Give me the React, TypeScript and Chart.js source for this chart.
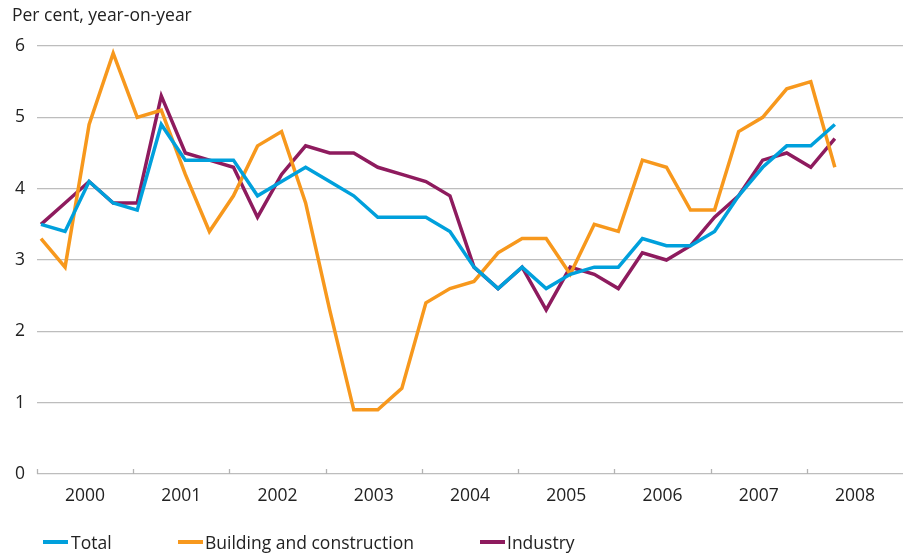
import React, { useEffect, useRef } from "react";
import { Chart, registerables } from "chart.js";

Chart.register(...registerables);

const quarters = [
  "2000Q1","2000Q2","2000Q3","2000Q4",
  "2001Q1","2001Q2","2001Q3","2001Q4",
  "2002Q1","2002Q2","2002Q3","2002Q4",
  "2003Q1","2003Q2","2003Q3","2003Q4",
  "2004Q1","2004Q2","2004Q3","2004Q4",
  "2005Q1","2005Q2","2005Q3","2005Q4",
  "2006Q1","2006Q2","2006Q3","2006Q4",
  "2007Q1","2007Q2","2007Q3","2007Q4",
  "2008Q1","2008Q2",
];

const total = [
  3.5, 3.4, 4.1, 3.8, 3.7, 4.9, 4.4, 4.4, 4.4, 3.9, 4.1, 4.3,
  4.1, 3.9, 3.6, 3.6, 3.6, 3.4, 2.9, 2.6, 2.9, 2.6, 2.8, 2.9,
  2.9, 3.3, 3.2, 3.2, 3.4, 3.9, 4.3, 4.6, 4.6, 4.9,
];

const building = [
  3.3, 2.9, 4.9, 5.9, 5.0, 5.1, 4.2, 3.4, 3.9, 4.6, 4.8, 3.8,
  2.3, 0.9, 0.9, 1.2, 2.4, 2.6, 2.7, 3.1, 3.3, 3.3, 2.8, 3.5,
  3.4, 4.4, 4.3, 3.7, 3.7, 4.8, 5.0, 5.4, 5.5, 4.3,
];

const industry = [
  3.5, 3.8, 4.1, 3.8, 3.8, 5.3, 4.5, 4.4, 4.3, 3.6, 4.2, 4.6,
  4.5, 4.5, 4.3, 4.2, 4.1, 3.9, 2.9, 2.6, 2.9, 2.3, 2.9, 2.8,
  2.6, 3.1, 3.0, 3.2, 3.6, 3.9, 4.4, 4.5, 4.3, 4.7,
];

const yearLabels = ["2000","2001","2002","2003","2004","2005","2006","2007","2008"];
const yTicks = [0, 1, 2, 3, 4, 5, 6];

const seriesNames = ["Total", "Building and construction", "Industry"];
const colors = ["#00a0dc", "#f7981d", "#8e1b5e"];

// quarter label -> decimal year (point placed in middle of quarter's first month)
const qToX = (q: string) => {
  const y = parseInt(q.slice(0, 4), 10);
  const n = parseInt(q.slice(5), 10);
  return y + (n - 1) / 4 + 1 / 24;
};

const FONT = "'Open Sans', 'Noto Sans', sans-serif";
const TEXT = "#222222";
const FS = 17.5;

export default function App() {
  const ref = useRef<HTMLCanvasElement | null>(null);

  useEffect(() => {
    if (!ref.current) return;
    const mk = (vals: number[]) => vals.map((v, i) => ({ x: qToX(quarters[i]), y: v }));
    const inwardTicks = {
      id: "inwardTicks",
      afterDraw(chart: any) {
        const xs = chart.scales.x;
        const bottom = chart.chartArea.bottom;
        const ctx = chart.ctx;
        ctx.save();
        ctx.strokeStyle = "#b3b3b3";
        ctx.lineWidth = 1.3;
        yearLabels.forEach((y) => {
          const px = Math.round(xs.getPixelForValue(parseInt(y, 10))) + 0.5;
          ctx.beginPath();
          ctx.moveTo(px, bottom - 5);
          ctx.lineTo(px, bottom);
          ctx.stroke();
        });
        ctx.restore();
      },
    };
    const chart = new Chart(ref.current, {
      type: "line",
      data: {
        datasets: [
          { label: seriesNames[0], data: mk(total), borderColor: colors[0], backgroundColor: colors[0] },
          { label: seriesNames[1], data: mk(building), borderColor: colors[1], backgroundColor: colors[1] },
          { label: seriesNames[2], data: mk(industry), borderColor: colors[2], backgroundColor: colors[2] },
        ].map((d) => ({ ...d, borderWidth: 3.5, pointRadius: 0, tension: 0, borderJoinStyle: "miter" as const })),
      },
      options: {
        animation: false,
        responsive: false,
        devicePixelRatio: 1,
        layout: { padding: { top: 46, left: 0, right: 0, bottom: 0 } },
        plugins: { legend: { display: false }, tooltip: { enabled: false }, title: { display: false } },
        scales: {
          x: {
            type: "linear",
            min: 2000,
            max: 2009,
            grid: { display: false },
            border: { display: false },
            afterBuildTicks: (scale: any) => {
              scale.ticks = yearLabels.map((y) => ({ value: parseInt(y, 10) + 0.5 }));
            },
            afterFit: (scale: any) => {
              scale.height = 83;
            },
            ticks: {
              autoSkip: false,
              maxRotation: 0,
              padding: 4,
              color: TEXT,
              font: { family: FONT, size: FS },
              callback: (v: any) => String(Math.floor(Number(v))),
            },
          },
          y: {
            min: 0,
            max: 6,
            afterBuildTicks: (scale: any) => {
              scale.ticks = yTicks.map((v) => ({ value: v }));
            },
            afterFit: (scale: any) => {
              scale.width = 37;
            },
            grid: { color: "#bdbdbd", lineWidth: 1.3, drawTicks: false },
            border: { display: false },
            ticks: {
              padding: 12,
              color: TEXT,
              font: { family: FONT, size: FS },
            },
          },
        },
      },
      plugins: [inwardTicks],
    });
    return () => chart.destroy();
  }, []);

  const legendPos = [
    { line: 43, text: 71 },
    { line: 178, text: 205 },
    { line: 480, text: 507 },
  ];

  return (
    <div style={{ position: "fixed", left: 0, top: 0, width: 903, height: 557, background: "#fff", fontFamily: FONT }}>
      <canvas ref={ref} width={903} height={557} style={{ position: "absolute", left: 0, top: 0 }} />
      <div style={{ position: "absolute", left: 12, top: 2, fontSize: FS, color: TEXT, whiteSpace: "nowrap" }}>
        Per cent, year-on-year
      </div>
      {seriesNames.map((n, i) => (
        <div key={n}>
          <div style={{ position: "absolute", left: legendPos[i].line, top: 540, width: 25, height: 4, background: colors[i] }} />
          <div style={{ position: "absolute", left: legendPos[i].text, top: 530, fontSize: FS, color: TEXT, whiteSpace: "nowrap" }}>
            {n}
          </div>
        </div>
      ))}
    </div>
  );
}
